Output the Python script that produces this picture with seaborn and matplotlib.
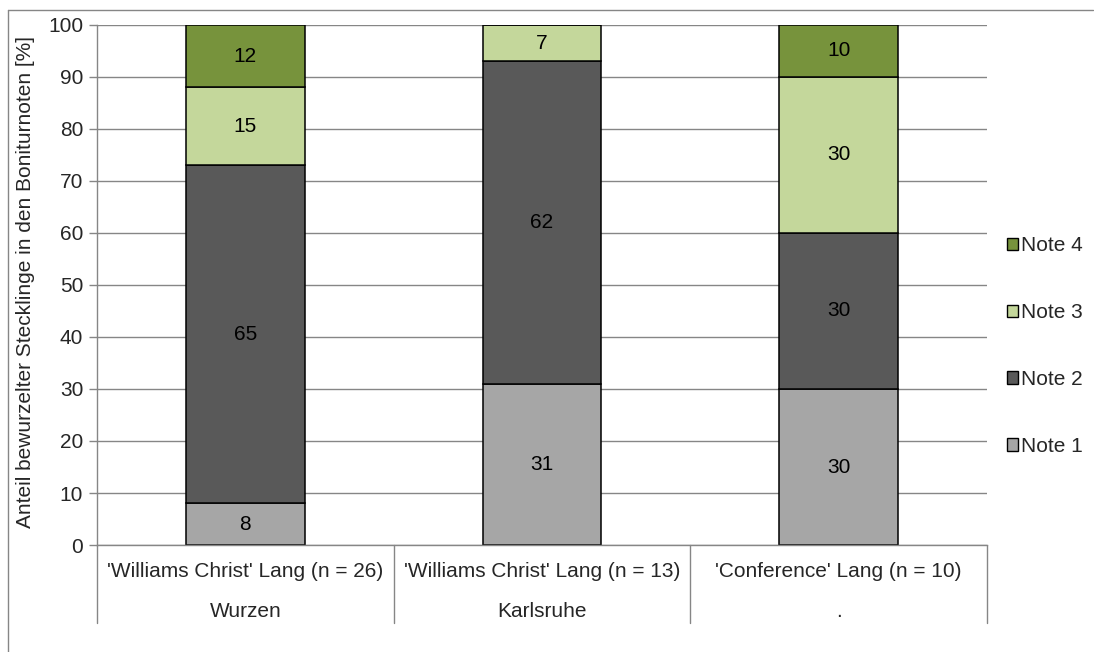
import matplotlib
matplotlib.use("Agg")
import matplotlib.pyplot as plt
from matplotlib.lines import Line2D
from matplotlib.patches import Patch
import seaborn as sns
import pandas as pd
import numpy as np

# Data: share of rooted cuttings per rating class (%)
cultivars = ["'Williams Christ' Lang (n = 26)",
             "'Williams Christ' Lang (n = 13)",
             "'Conference' Lang (n = 10)"]
locations = ["Wurzen", "Karlsruhe", "."]
notes = ["Note 1", "Note 2", "Note 3", "Note 4"]
note1 = [8, 31, 30]
note2 = [65, 62, 30]
note3 = [15, 7, 30]
note4 = [12, 0, 10]
colors = ["#A6A6A6", "#595959", "#C4D79B", "#77933C"]
yticks = list(range(0, 101, 10))
ylabel = "Anteil bewurzelter Stecklinge in den Boniturnoten [%]"

sns.set_theme(style="white")
plt.rcParams["font.family"] = ["Liberation Sans", "DejaVu Sans"]
FS = 15

layers = [note1, note2, note3, note4]
df = pd.DataFrame({
    "cat": np.tile(cultivars, len(notes)),
    "note": np.repeat(notes, len(cultivars)),
    "value": np.concatenate(layers),
})

fig = plt.figure(figsize=(10.94, 6.52), dpi=100)
ax = fig.add_axes([0.0887, 0.1641, 0.9022 - 0.0887, 0.9617 - 0.1641])

bottom = np.zeros(len(cultivars))
for note, color, vals in zip(notes, colors, layers):
    sub = df[df["note"] == note]
    sns.barplot(data=sub, x="cat", y="value", color=color, bottom=bottom,
                width=0.4, edgecolor="black", linewidth=1.1, ax=ax,
                order=cultivars, saturation=1, errorbar=None)
    cont = ax.containers[-1]
    labels = [str(v) if v > 0 else "" for v in vals]
    ax.bar_label(cont, labels=labels, label_type="center", fontsize=FS,
                 color="black")
    bottom = bottom + np.array(vals)

ax.set_xlim(-0.5, len(cultivars) - 0.5)
ax.set_ylim(0, 100)
ax.set_yticks(yticks)
ax.set_yticklabels([str(t) for t in yticks], fontsize=FS)
ax.yaxis.grid(True, color="#868686", linewidth=1.0)
ax.set_axisbelow(True)
ax.tick_params(axis="y", left=True, length=6, width=1.0, color="#868686", pad=4)
ax.set_xticks([])
ax.set_xlabel("")
ax.set_ylabel(ylabel, fontsize=FS)
ax.yaxis.set_label_coords(-0.0697, 0.506)

for side in ["top", "right"]:
    ax.spines[side].set_visible(False)
for side in ["left", "bottom"]:
    ax.spines[side].set_color("#868686")
    ax.spines[side].set_linewidth(1.0)

# Two-level category axis with separators
n = len(cultivars)
for i in range(n + 1):
    ax.add_line(Line2D([i / n, i / n], [0, -0.15], transform=ax.transAxes,
                       color="#868686", linewidth=1.0, clip_on=False))
for i, (c, loc) in enumerate(zip(cultivars, locations)):
    xc = (i + 0.5) / n
    ax.text(xc, -0.05, c, transform=ax.transAxes, ha="center", va="center",
            fontsize=FS)
    ax.text(xc, -0.127, loc, transform=ax.transAxes, ha="center", va="center",
            fontsize=FS)

# Legend (reversed order, right side)
handles = [Patch(facecolor=c, edgecolor="black", linewidth=1.0) for c in colors]
leg = fig.legend(handles[::-1], notes[::-1], loc="center left",
                 bbox_to_anchor=(0.911, 1 - 346 / 652), frameon=False,
                 fontsize=FS, handlelength=0.53, handleheight=0.53,
                 handletextpad=0.15, labelspacing=2.3, borderpad=0)

# Outer chart frame
fig.add_artist(Line2D([8 / 1094, 1093 / 1094], [1 - 10 / 652, 1 - 10 / 652],
                      transform=fig.transFigure, color="#868686", linewidth=1.0))
fig.add_artist(Line2D([8 / 1094, 8 / 1094], [1 - 10 / 652, 0],
                      transform=fig.transFigure, color="#868686", linewidth=1.0))

fig.savefig("out.png", dpi=100)
